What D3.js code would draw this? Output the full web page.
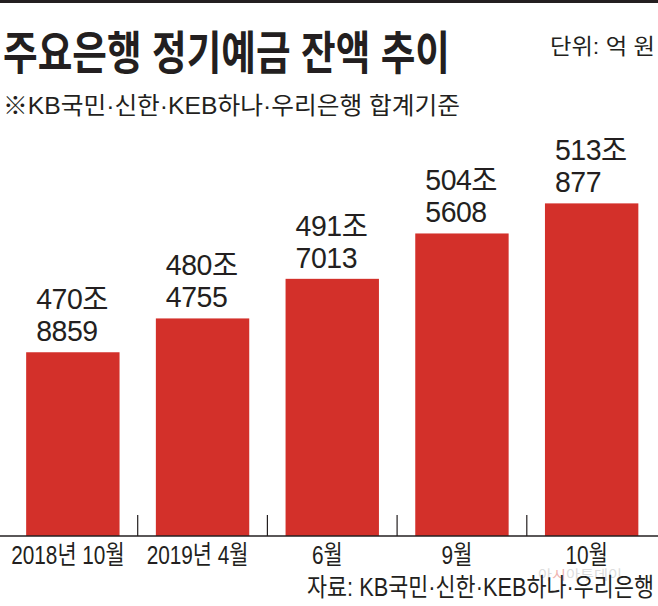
<!DOCTYPE html>
<html>
<head>
<meta charset="utf-8">
<script src="https://cdn.jsdelivr.net/npm/d3@7"></script>
<style>
	body { margin: 0; background: #fff; }
	svg { display: block; }
	text { font-family: 'Liberation Sans', 'Noto Sans CJK KR', sans-serif; fill: #231f20; }
</style>
</head>
<body>
<svg id="chart" width="658" height="606"></svg>
<script>
// 주요은행 정기예금 잔액 (단위: 억 원)
var categories = ["2018년 10월", "2019년 4월", "6월", "9월", "10월"];
var values = [4708859, 4804755, 4917013, 5045608, 5130877];

var title = "주요은행 정기예금 잔액 추이",
	subtitle = "※KB국민·신한·KEB하나·우리은행 합계기준",
	unit = "단위: 억 원",
	source = "자료: KB국민·신한·KEB하나·우리은행";

var svg = d3.select("#chart"),
	width = +svg.attr("width"),
	baseline = 536,
	red = "#d3302a";

var x = d3.scaleBand()
	.domain(categories)
	.range([8, 656.5])
	.paddingInner(0.28)
	.paddingOuter(0.14);

// axis does not start at zero in the original
var y = d3.scaleLinear()
	.domain([4188000, 5200000])
	.range([baseline, 179]);

svg.append("rect")
	.attr("x", 0).attr("y", 0)
	.attr("width", width).attr("height", 3)
	.attr("fill", "#231f20");

svg.append("text")
	.attr("x", 3).attr("y", 69)
	.attr("font-size", 46)
	.attr("font-weight", 700)
	.attr("textLength", 447)
	.attr("lengthAdjust", "spacingAndGlyphs")
	.text(title);

svg.append("text")
	.attr("x", 3).attr("y", 114)
	.attr("font-size", 24)
	.attr("textLength", 457)
	.attr("lengthAdjust", "spacingAndGlyphs")
	.text(subtitle);

svg.append("text")
	.attr("x", 550).attr("y", 54)
	.attr("font-size", 22)
	.attr("textLength", 105)
	.attr("lengthAdjust", "spacingAndGlyphs")
	.text(unit);

var bars = svg.append("g").attr("class", "bars");

bars.selectAll("rect")
	.data(values)
	.enter()
	.append("rect")
	.attr("x", function(d, i) { return x(categories[i]); })
	.attr("y", function(d) { return y(d); })
	.attr("width", x.bandwidth())
	.attr("height", function(d) { return baseline - y(d); })
	.attr("fill", red);

var labels = svg.append("g").attr("class", "labels")
	.selectAll("text")
	.data(values)
	.enter()
	.append("text")
	.attr("font-size", 30)
	.attr("letter-spacing", -0.5)
	.attr("transform", function(d, i) {
		return "translate(" + (x(categories[i]) + 10) + "," + (y(d) - 43) + ") scale(0.95,1)";
	});

labels.append("tspan")
	.attr("x", 0).attr("dy", 0)
	.text(function(d) { return Math.floor(d / 10000) + "조"; });

labels.append("tspan")
	.attr("x", 0).attr("dy", 32)
	.text(function(d) { return d % 10000; });

// baseline and ticks between bands
var axis = svg.append("g").attr("class", "axis");

axis.append("line")
	.attr("x1", 0).attr("x2", width)
	.attr("y1", baseline).attr("y2", baseline)
	.attr("stroke", "#231f20")
	.attr("stroke-width", 1.5);

axis.selectAll("line.tick")
	.data(categories.slice(0, -1))
	.enter()
	.append("line")
	.attr("class", "tick")
	.attr("x1", function(d) { return x(d) + x.bandwidth() + (x.step() - x.bandwidth()) / 2; })
	.attr("x2", function(d) { return x(d) + x.bandwidth() + (x.step() - x.bandwidth()) / 2; })
	.attr("y1", baseline - 21).attr("y2", baseline)
	.attr("stroke", "#231f20")
	.attr("stroke-width", 1.2);

axis.selectAll("text")
	.data(categories)
	.enter()
	.append("text")
	.attr("text-anchor", "middle")
	.attr("font-size", 26)
	.attr("transform", function(d) {
		return "translate(" + (x(d) + x.bandwidth() / 2 - 5) + "," + 564 + ") scale(0.8,1)";
	})
	.text(function(d) { return d; });

// watermark
var wm = svg.append("text")
	.attr("x", 538).attr("y", 579)
	.attr("font-size", 13)
	.attr("textLength", 84)
	.attr("lengthAdjust", "spacingAndGlyphs")
	.style("fill", "#dcdcdc");
wm.append("tspan").text("아");
wm.append("tspan").style("fill", "#f0b4b0").text("시");
wm.append("tspan").text("아투데이");

svg.append("text")
	.attr("x", 307).attr("y", 596)
	.attr("font-size", 25)
	.attr("textLength", 347)
	.attr("lengthAdjust", "spacingAndGlyphs")
	.text(source);
</script>
</body>
</html>
